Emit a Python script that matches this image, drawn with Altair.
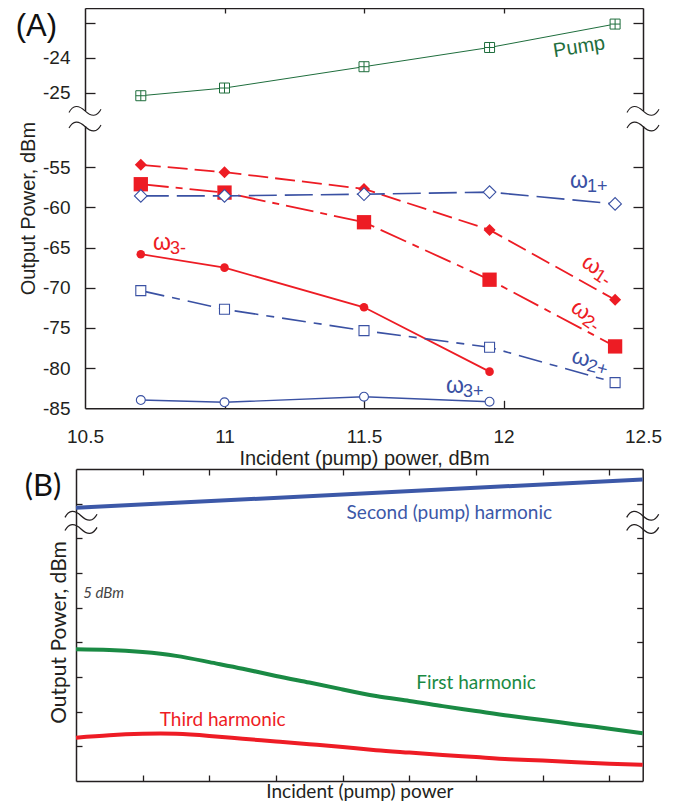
import altair as alt
import pandas as pd

# ---------------- Panel (A): measured output powers (dBm) ----------------
power = [10.7, 11.0, 11.5, 11.95, 12.4]
power_short = [10.7, 11.0, 11.5, 11.95]
pump_dbm = [-25.09, -24.87, -24.26, -23.71, -23.04]
w1_minus = [-54.71, -55.62, -57.70, -62.80, -71.50]
w2_minus = [-57.12, -58.16, -61.85, -69.00, -77.30]
w1_plus = [-58.57, -58.57, -58.36, -58.10, -59.57]
w3_minus = [-65.83, -67.50, -72.43, -80.44]
w2_plus = [-70.36, -72.68, -75.34, -77.40, -81.80]
w3_plus = [-83.97, -84.25, -83.56, -84.18]

a_xticks = [10.5, 11, 11.5, 12, 12.5]
a_xticks_inner = [11, 11.5, 12]
a_yticks = [-85, -80, -75, -70, -65, -60, -55, -25, -24, -23]
a_yticks_inner = [-80, -75, -70, -65, -60, -55, -25, -24, -23]

omega_sub = ["1+", "3-", "1-", "2-", "2+", "3+"]
omega_x = [12.238, 10.744, 12.289, 12.251, 12.247, 11.794]
omega_y = [-56.71, -64.42, -66.50, -72.11, -78.42, -82.22]

# ---------------- Panel (B): schematic curves ----------------
b_x = [0, 0.5, 1, 1.5, 2, 2.5, 3, 3.5, 4, 4.5, 5, 5.5, 6, 6.5, 7, 7.5, 8, 8.5]
b_first = [3.80, 3.78, 3.72, 3.61, 3.43, 3.24, 3.03, 2.84, 2.64, 2.45, 2.31,
           2.16, 2.02, 1.88, 1.76, 1.63, 1.51, 1.38]
b_third = [1.25, 1.32, 1.36, 1.36, 1.30, 1.22, 1.14, 1.06, 0.98, 0.89, 0.82,
           0.75, 0.69, 0.63, 0.59, 0.54, 0.50, 0.47]
b_second_x = [0, 8.5]
b_second = [7.88, 8.70]
b_ticks = [1, 2, 3, 4, 5, 6, 7, 8]

# ---------------- styling ----------------
W, H = 558, 773
A_BOT = 400.3
B_TOP = 461
RED, BLUE, GREEN = "#ed1c24", "#3a51a3", "#1f6e3d"
B_BLUE, B_GREEN, B_RED = "#3c58a8", "#1a8a44", "#ee1c25"
INK = "#231f20"
FA, FB = "Liberation Sans", "Lato"
PUMP_SHAPE = "M-1,-1H1V1H-1Z M0,-1V1 M-1,0H1"
TILDE = "M-1,0.1 C-0.75,-0.38 -0.4,-0.38 0,0 C0.4,0.38 0.75,0.38 1,-0.1"

AXS = alt.Scale(domain=[10.5, 12.5], range=[0, W], nice=False, zero=False)
AYS = alt.Scale(domain=[-85, -50, -25.47, -22.58], range=[A_BOT, 119, 101, 0], nice=False, zero=False)
BXS = alt.Scale(domain=[0, 8.5], range=[-9, 557.7], nice=False, zero=False)
BYS = alt.Scale(domain=[0, 9], range=[H, B_TOP], nice=False, zero=False)


def frame_axis(orient, offset, values, size):
    return alt.Axis(orient=orient, offset=offset, values=values, grid=False,
                    domain=True, domainColor=INK, domainWidth=1.5,
                    ticks=True, tickSize=size, tickColor=INK, tickWidth=1.3,
                    labels=False, title=None)


a_x_axes = [
    alt.Axis(orient="bottom", offset=-(H - A_BOT), values=a_xticks, grid=False,
             domain=False, ticks=False, tickSize=0,
             labelExpr="'' + datum.value", labelFont=FA, labelFontSize=19, labelColor=INK,
             labelPadding=19, labelFlush=False, labelOverlap=False,
             title="Incident (pump) power, dBm", titleFont=FA, titleFontSize=20,
             titleFontWeight="normal", titleColor=INK, titlePadding=2),
    frame_axis("top", -A_BOT, a_xticks_inner, 8),
    frame_axis("bottom", -H, a_xticks_inner, 5),
]
a_y_axes = [
    alt.Axis(orient="left", offset=0, values=a_yticks, grid=False,
             domain=False, ticks=False, tickSize=0,
             labelExpr="datum.value == -23 ? '' : '' + datum.value",
             labelFont=FA, labelFontSize=19, labelColor=INK, labelPadding=15,
             labelOverlap=False, labelFlush=False,
             title="Output Power, dBm", titleFont=FA, titleFontSize=20,
             titleFontWeight="normal", titleColor=INK, titlePadding=4),
    frame_axis("right", -W, a_yticks_inner, 10),
    frame_axis("left", -W, a_yticks_inner, 10),
]
b_x_axes = [
    alt.Axis(orient="bottom", offset=0, grid=False, domain=False, ticks=False, tickSize=0,
             labels=False, title="Incident (pump) power", titleFont=FB, titleFontSize=19,
             titleFontWeight="normal", titleColor=INK, titlePadding=1),
    frame_axis("top", -H, b_ticks, 6),
    frame_axis("bottom", B_TOP - H, b_ticks, 6),
]
b_y_axes = [
    alt.Axis(orient="left", offset=9, grid=False, domain=False, ticks=False, tickSize=0,
             labels=False, title="Output Power, dBm", titleFont=FB, titleFontSize=21,
             titleFontWeight="normal", titleColor=INK, titlePadding=7, titleY=624),
    frame_axis("right", -(W + 9), b_ticks, 6),
    frame_axis("left", -557.7, b_ticks, 6),
]


def enc(panel, axes_x, axes_y):
    xs, ys = (AXS, AYS) if panel == "A" else (BXS, BYS)
    xa = axes_x.pop(0) if axes_x else None
    ya = axes_y.pop(0) if axes_y else None
    return dict(x=alt.X("px:Q", scale=xs, axis=xa), y=alt.Y("py:Q", scale=ys, axis=ya))


def frame(xs, ys):
    return pd.DataFrame({"px": xs, "py": ys})


layers = []

# ---- panel A series ----
series = [
    (power, pump_dbm, GREEN, None, 1.0,
     dict(shape=PUMP_SHAPE, size=100, filled=True, fill="white", stroke=GREEN, strokeWidth=1.0)),
    (power, w1_minus, RED, [20, 7], 1.8,
     dict(shape="diamond", size=144, filled=True, color=RED)),
    (power, w2_minus, RED, [28, 7, 7, 7], 1.8,
     dict(shape="square", size=205, filled=True, color=RED)),
    (power, w1_plus, BLUE, [28, 8], 1.6,
     dict(shape="diamond", size=160, filled=True, fill="white", stroke=BLUE, strokeWidth=1.1)),
    (power_short, w3_minus, RED, None, 1.8,
     dict(shape="circle", size=74, filled=True, color=RED)),
    (power, w2_plus, BLUE, [24, 8, 8, 8], 1.6,
     dict(shape="square", size=100, filled=True, fill="white", stroke=BLUE, strokeWidth=1.1)),
    (power_short, w3_plus, BLUE, None, 1.4,
     dict(shape="circle", size=79, filled=True, fill="white", stroke=BLUE, strokeWidth=1.1)),
]
for xs, ys, col, dash, lw, pt in series:
    df = frame(xs, ys)
    line_kw = dict(color=col, strokeWidth=lw)
    if dash:
        line_kw["strokeDash"] = dash
    layers.append(alt.Chart(df).mark_line(**line_kw).encode(**enc("A", a_x_axes, a_y_axes)))
    layers.append(alt.Chart(df).mark_point(opacity=1, **pt).encode(**enc("A", a_x_axes, a_y_axes)))

# break of the (A) y axis
layers.append(alt.Chart(pd.DataFrame({"px": [10.35], "px2": [12.65], "py": [-28.3], "py2": [-49.0]}))
              .mark_rect(color="white").encode(
                  x=alt.X("px:Q", scale=AXS, axis=None), x2="px2:Q",
                  y=alt.Y("py:Q", scale=AYS, axis=None), y2="py2:Q"))
layers.append(alt.Chart(frame([10.5, 10.5, 12.5, 12.5], [-28.0, -49.3, -28.0, -49.3]))
              .mark_point(shape=TILDE, size=1024, filled=False, color=INK, strokeWidth=1.1, opacity=1)
              .encode(**enc("A", [], [])))

# omega labels
omega_angle = [0, 0, 33, 35, 15, 0]
omega_color = [BLUE, RED, RED, RED, BLUE, BLUE]
for sub, x, y, ang, col in zip(omega_sub, omega_x, omega_y, omega_angle, omega_color):
    df = frame([x], [y])
    layers.append(alt.Chart(df).mark_text(text="ω", font=FA, fontSize=23, align="left",
                                          baseline="middle", angle=ang, color=col)
                  .encode(**enc("A", [], [])))
    layers.append(alt.Chart(df).mark_text(text=sub, font=FA, fontSize=18, align="left",
                                          baseline="middle", angle=ang, dx=17, dy=6, color=col)
                  .encode(**enc("A", [], [])))

layers.append(alt.Chart(frame([12.271], [-23.70])).mark_text(
    text="Pump", font=FA, fontSize=20, angle=351, color=GREEN, align="center", baseline="middle")
    .encode(**enc("A", [], [])))
layers.append(alt.Chart(frame([10.326], [-23.11])).mark_text(
    text="(A)", font=FA, fontSize=31, color="#111", align="center", baseline="middle")
    .encode(**enc("A", [], [])))

# ---- panel B ----
layers.append(alt.Chart(frame(b_second_x, b_second)).mark_line(color=B_BLUE, strokeWidth=4)
              .encode(**enc("B", b_x_axes, b_y_axes)))
layers.append(alt.Chart(frame(b_x, b_first)).mark_line(color=B_GREEN, strokeWidth=4, interpolate="natural")
              .encode(**enc("B", b_x_axes, b_y_axes)))
layers.append(alt.Chart(frame(b_x, b_third)).mark_line(color=B_RED, strokeWidth=4, interpolate="natural")
              .encode(**enc("B", b_x_axes, b_y_axes)))
layers.append(alt.Chart(frame([0.075, 0.075, 8.5, 8.5], [7.65, 7.27, 7.65, 7.27]))
              .mark_point(shape=TILDE, size=1024, filled=False, color=INK, strokeWidth=1.3, opacity=1)
              .encode(**enc("B", [], [])))

b_texts = [
    ("Second (pump) harmonic", 5.6, 7.57, B_BLUE),
    ("First harmonic", 6.0, 2.66, B_GREEN),
    ("Third harmonic", 2.2, 1.585, B_RED),
]
for txt, x, y, col in b_texts:
    layers.append(alt.Chart(frame([x], [y])).mark_text(
        text=txt, font=FB, fontSize=19, color=col, align="center", baseline="alphabetic")
        .encode(**enc("B", [], [])))
layers.append(alt.Chart(frame([0.11], [5.28])).mark_text(
    text="5 dBm", font=FB, fontSize=15, fontStyle="italic", color="#444", align="left",
    baseline="alphabetic").encode(**enc("B", [], [])))
layers.append(alt.Chart(frame([-0.495], [8.48])).mark_text(
    text="(B)", font=FB, fontSize=31, color="#111", align="center", baseline="middle")
    .encode(**enc("B", [], [])))

chart = (
    alt.layer(*layers)
    .resolve_scale(x="independent", y="independent")
    .resolve_axis(x="independent", y="independent")
    .properties(width=W, height=H, autosize=alt.AutoSizeParams(type="none"),
                padding={"left": 77, "top": 0, "right": 36, "bottom": 23})
    .configure_view(strokeWidth=0)
)

chart.save("out.html", embed_options={"renderer": "svg", "actions": False})
